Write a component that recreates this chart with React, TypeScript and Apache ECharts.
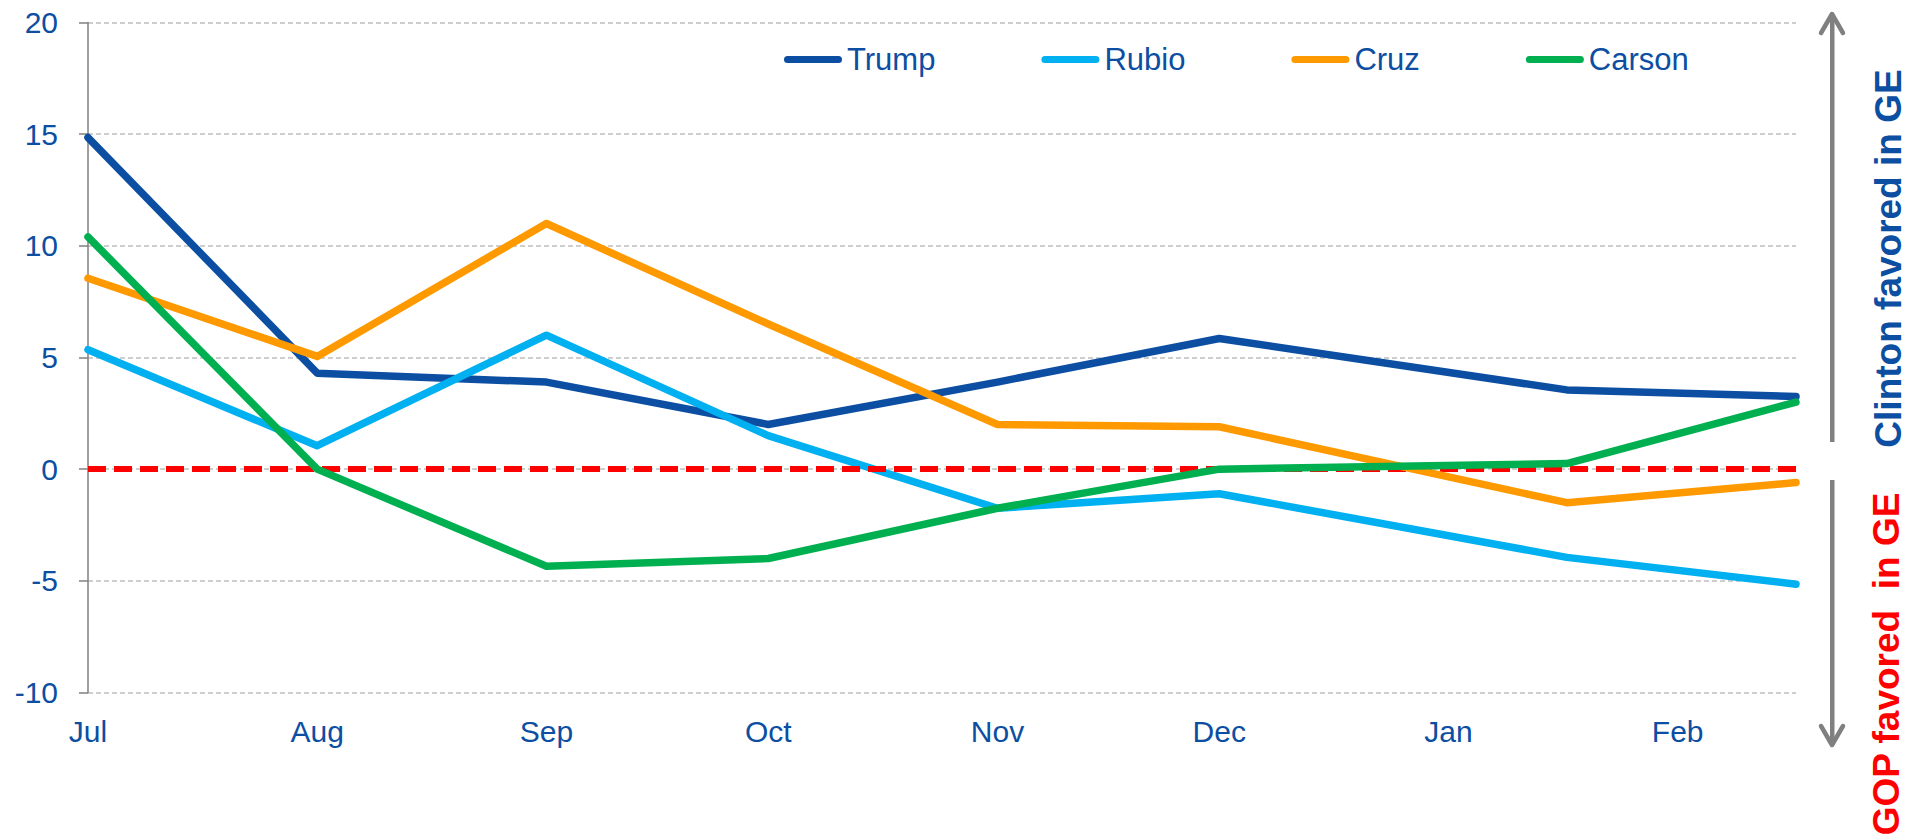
import React, { useEffect, useRef } from "react";
import * as echarts from "echarts";

const monthLabels = ["Jul", "Aug", "Sep", "Oct", "Nov", "Dec", "Jan", "Feb"];
const monthStarts = ["2015-07-01", "2015-08-01", "2015-09-01", "2015-10-01", "2015-11-01", "2015-12-01", "2016-01-01", "2016-02-01"];
const pollDates = ["2015-07-01", "2015-08-01", "2015-09-01", "2015-10-01", "2015-11-01", "2015-12-01", "2016-01-17", "2016-02-17"];
const axisStart = "2015-07-01";
const axisEnd = "2016-02-17";

const seriesNames = ["Trump", "Rubio", "Cruz", "Carson"];
const trump = [14.85, 4.3, 3.9, 2.0, 3.9, 5.85, 3.55, 3.25];
const rubio = [5.35, 1.05, 6.0, 1.5, -1.75, -1.1, -3.95, -5.15];
const cruz = [8.55, 5.05, 11.0, 6.5, 2.0, 1.9, -1.5, -0.6];
const carson = [10.4, 0.0, -4.35, -4.0, -1.75, 0.0, 0.25, 3.0];
const seriesColors = ["#0B4EA2", "#00B0F0", "#FF9900", "#00B050"];

const yTicks = { min: -10, max: 20, step: 5 };

const dayOf = (s: string) => (Date.parse(s + "T00:00:00Z") - Date.parse(axisStart + "T00:00:00Z")) / 86400000;

const FONT = '"Liberation Sans", Arial, sans-serif';
const LABEL_BLUE = "#0B4EA2";

export default function App() {
  const ref = useRef<HTMLDivElement>(null);
  useEffect(() => {
    document.body.style.margin = "0";
    const chart = echarts.init(ref.current!, null, { renderer: "svg" });
    const xs = pollDates.map(dayOf);
    const monthDays = monthStarts.map(dayOf);
    const values = [trump, rubio, cruz, carson];
    const lineSeries = seriesNames.map((name, i) => ({
      name,
      type: "line",
      symbol: "none",
      data: xs.map((x, j) => [x, values[i][j]]),
      lineStyle: { width: 7.5, color: seriesColors[i], cap: "round", join: "round" },
      itemStyle: { color: seriesColors[i] },
      z: 3 + i,
    }));
    const headStyle = {
      stroke: "#808080",
      lineWidth: 4.5,
      fill: null,
      lineCap: "round",
      lineJoin: "round",
    };
    chart.setOption({
      animation: false,
      backgroundColor: "#ffffff",
      textStyle: { fontFamily: FONT },
      grid: { left: 88, right: 126, top: 22.5, bottom: 143.5, containLabel: false },
      legend: {
        data: seriesNames,
        left: 779,
        top: 39,
        itemWidth: 58,
        itemHeight: 7,
        itemGap: 106,
        selectedMode: false,
        icon: "path://M3.5,0H54.5A3.5,3.5,0,0,1,54.5,7H3.5A3.5,3.5,0,0,1,3.5,0Z",
        textStyle: { color: LABEL_BLUE, fontSize: 31, fontFamily: FONT },
      },
      xAxis: {
        type: "value",
        min: 0,
        max: dayOf(axisEnd),
        axisLine: { show: false },
        axisTick: { show: false },
        splitLine: { show: false },
        axisLabel: {
          customValues: monthDays,
          formatter: (v: number) => {
            const k = monthDays.indexOf(v);
            return k >= 0 ? monthLabels[k] : "";
          },
          color: LABEL_BLUE,
          fontSize: 30,
          fontFamily: FONT,
          margin: 24,
        },
      },
      yAxis: {
        type: "value",
        min: yTicks.min,
        max: yTicks.max,
        interval: yTicks.step,
        axisLine: { show: true, lineStyle: { color: "#808080", width: 1.5 } },
        axisTick: { show: true, length: 9, lineStyle: { color: "#808080", width: 1.5 } },
        splitLine: { show: true, lineStyle: { color: "#BFBFBF", width: 1.5, type: [5, 3] } },
        axisLabel: { color: LABEL_BLUE, fontSize: 30, fontFamily: FONT, margin: 30 },
      },
      series: [
        {
          name: "zero",
          type: "line",
          data: [],
          z: 2,
          markLine: {
            silent: true,
            symbol: ["none", "none"],
            label: { show: false },
            lineStyle: { color: "#FF0000", width: 6, type: [18, 8] },
            data: [{ yAxis: 0 }],
          },
        },
        ...lineSeries,
      ],
      graphic: [
        { type: "rect", shape: { x: 1830, y: 15, width: 4.5, height: 427 }, style: { fill: "#808080" } },
        { type: "polyline", shape: { points: [[1821, 33], [1832, 14], [1843, 33]] }, style: headStyle },
        { type: "rect", shape: { x: 1830, y: 480, width: 4.5, height: 265 }, style: { fill: "#808080" } },
        { type: "polyline", shape: { points: [[1821, 726], [1832, 745], [1843, 726]] }, style: headStyle },
        {
          type: "text",
          x: 1888,
          y: 258.5,
          rotation: Math.PI / 2,
          style: {
            text: "Clinton favored in GE",
            fill: LABEL_BLUE,
            font: 'bold 37px "Liberation Sans", Arial, sans-serif',
            align: "center",
            verticalAlign: "middle",
          },
        },
        {
          type: "text",
          x: 1886.5,
          y: 664,
          rotation: Math.PI / 2,
          style: {
            text: "GOP favored  in GE",
            fill: "#FF0000",
            font: 'bold 37px "Liberation Sans", Arial, sans-serif',
            align: "center",
            verticalAlign: "middle",
          },
        },
      ],
    });
    return () => chart.dispose();
  }, []);
  return <div ref={ref} style={{ position: "fixed", left: 0, top: 0, width: 1922, height: 836 }} />;
}
